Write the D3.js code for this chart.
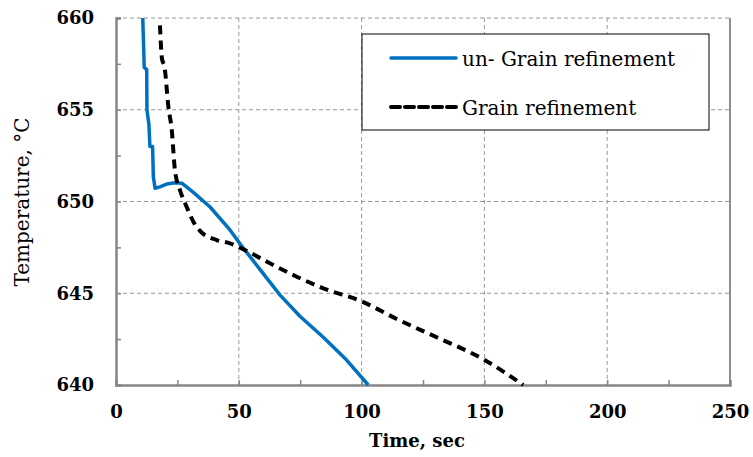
<!DOCTYPE html>
<html>
<head>
<meta charset="utf-8">
<script src="https://cdn.jsdelivr.net/npm/d3@7"></script>
<style>
  body { margin: 0; background: #fff; }
  svg { display: block; }
</style>
</head>
<body>
<div id="chart"></div>
<script>
// cooling curves

let seriesNames = [ "un- Grain refinement", "Grain refinement" ] ;

let unrefinedTime = [ 10.9, 11.5, 11.8, 12.5, 12.6, 13.4, 13.8, 14.9, 15.2, 15.9, 17.9, 20.6, 24.0, 26.8, 31.5, 38.3, 46.4, 50.5, 58.6, 66.8, 74.9, 84.4, 93.9, 102.7 ] ;
let unrefinedTemp = [ 660.0, 657.3, 657.26, 657.2, 655.0, 654.2, 653.0, 653.0, 651.35, 650.72, 650.8, 650.95, 651.02, 651.0, 650.5, 649.7, 648.45, 647.7, 646.3, 644.9, 643.75, 642.6, 641.36, 640.0 ] ;

let refinedTime = [ 17.9, 18.7, 19.8, 21.3, 22.7, 24.0, 26.1, 28.8, 31.5, 34.2, 41.0, 46.4, 51.8, 62.7, 73.6, 85.8, 99.3, 114.3, 130.6, 149.6, 165.8 ] ;
let refinedTemp = [ 659.6, 657.8, 657.3, 655.2, 653.9, 651.7, 650.6, 649.7, 648.9, 648.4, 647.9, 647.72, 647.4, 646.63, 645.9, 645.2, 644.6, 643.6, 642.6, 641.4, 640.0 ] ;

let xMajor = [ 0, 50, 100, 150, 200, 250 ] ;
let xMinor = [ 0, 25, 50, 75, 100, 125, 150, 175, 200, 225, 250 ] ;
let yMajor = [ 640, 645, 650, 655, 660 ] ;
let yMinor = [ 640, 642.5, 645, 647.5, 650, 652.5, 655, 657.5, 660 ] ;

let margin = { 'top': 18, 'right': 23, 'bottom': 72, 'left': 116 } ;
let svgwidth  = 753 ;
let svgheight = 457 ;
let w = svgwidth  - margin.left - margin.right ;
let h = svgheight - margin.top  - margin.bottom ;

let svg = d3.select("#chart").append("svg")
			.attr("width", svgwidth)
			.attr("height", svgheight) ;

let g = svg.append("g").attr("transform", "translate(" + margin.left + "," + margin.top + ")") ;

let x = d3.scaleLinear().domain([ 0, 250 ]).range([ 0, w ]) ;
let y = d3.scaleLinear().domain([ 640, 660 ]).range([ h, 0 ]) ;

// grid
g.selectAll(".vgrid").data(xMajor.slice(1, -1)).enter().append("line")
	.attr("x1", d => x(d)).attr("x2", d => x(d))
	.attr("y1", 0).attr("y2", h)
	.attr("stroke", "#999").attr("stroke-width", 1).attr("stroke-dasharray", "4,3") ;

g.selectAll(".hgrid").data(yMajor.slice(1)).enter().append("line")
	.attr("x1", 0).attr("x2", w)
	.attr("y1", d => y(d)).attr("y2", d => y(d))
	.attr("stroke", "#999").attr("stroke-width", 1).attr("stroke-dasharray", "4,3") ;

// right border
g.append("line")
	.attr("x1", w).attr("x2", w).attr("y1", 0).attr("y2", h)
	.attr("stroke", "#444").attr("stroke-width", 1.2) ;

let fontSerif = "'DejaVu Serif', 'Liberation Serif', serif" ;

// axes, ticks pointing inward
let xAxis = g.append("g")
	.attr("transform", "translate(0," + h + ")")
	.call( d3.axisBottom(x).tickValues(xMinor).tickSize(-5).tickPadding(20)
		.tickFormat(d => xMajor.indexOf(d) >= 0 ? d : "") ) ;

let yAxis = g.append("g")
	.call( d3.axisLeft(y).tickValues(yMinor).tickSize(-5).tickPadding(22)
		.tickFormat(d => yMajor.indexOf(d) >= 0 ? d : "") ) ;

[ xAxis, yAxis ].forEach(a => {
	a.select(".domain").attr("stroke", "#868686").attr("stroke-width", 2.5) ;
	a.selectAll(".tick line").attr("stroke", "#868686").attr("stroke-width", 1.5) ;
	a.selectAll(".tick text")
		.attr("fill", "#000")
		.style("font-family", fontSerif)
		.style("font-weight", "bold")
		.style("font-size", "18px") ;
}) ;

// lines
let unrefined = unrefinedTime.map((t, i) => [ t, unrefinedTemp[i] ]) ;
let refined   = refinedTime.map((t, i) => [ t, refinedTemp[i] ]) ;

g.append("path")
	.datum(unrefined)
	.attr("fill", "none")
	.attr("stroke", "#0070C0")
	.attr("stroke-width", 3.5)
	.attr("stroke-linejoin", "round")
	.attr("d", d3.line().x(d => x(d[0])).y(d => y(d[1]))) ;

g.append("path")
	.datum(refined)
	.attr("fill", "none")
	.attr("stroke", "#000")
	.attr("stroke-width", 4)
	.attr("stroke-dasharray", "9,6")
	.attr("stroke-linejoin", "round")
	.attr("d", d3.line().x(d => x(d[0])).y(d => y(d[1])).curve(d3.curveMonotoneX)) ;

// legend
let leg = svg.append("g").attr("transform", "translate(362,34)") ;
leg.append("rect")
	.attr("width", 347).attr("height", 96)
	.attr("fill", "#fff").attr("stroke", "#000").attr("stroke-width", 1) ;

let legStyles = [
	{ 'stroke': "#0070C0", 'dash': null,  'w': 3.5 },
	{ 'stroke': "#000",    'dash': "9,5", 'w': 4 }
] ;

seriesNames.forEach((name, i) => {
	let yy = 24 + i * 49 ;
	leg.append("line")
		.attr("x1", 29).attr("x2", 94).attr("y1", yy).attr("y2", yy)
		.attr("stroke", legStyles[i].stroke)
		.attr("stroke-width", legStyles[i].w)
		.attr("stroke-dasharray", legStyles[i].dash)
		.attr("stroke-linecap", "round") ;
	leg.append("text")
		.attr("x", 100).attr("y", yy + 8)
		.style("font-family", fontSerif)
		.style("font-size", "20px")
		.text(name) ;
}) ;

// axis titles
svg.append("text")
	.attr("x", margin.left + w / 2 - 6).attr("y", 447)
	.attr("text-anchor", "middle")
	.style("font-family", fontSerif)
	.style("font-weight", "bold")
	.style("font-size", "18px")
	.text("Time, sec") ;

svg.append("text")
	.attr("transform", "translate(29,202) rotate(-90)")
	.attr("text-anchor", "middle")
	.style("font-family", fontSerif)
	.style("font-size", "20px")
	.text("Temperature, \u00B0C") ;
</script>
</body>
</html>
